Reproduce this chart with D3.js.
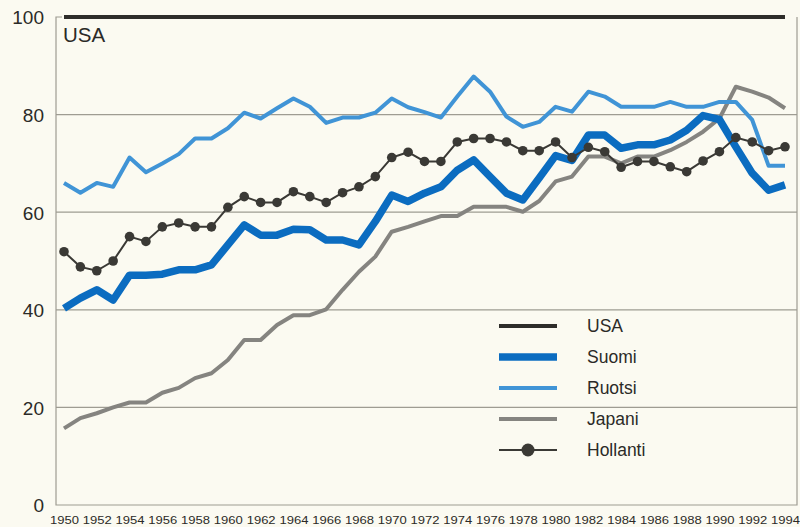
<!DOCTYPE html>
<html><head><meta charset="utf-8">
<script src="https://cdn.jsdelivr.net/npm/d3@7"></script>
<style>
html,body{margin:0;padding:0;background:#fbfaf1;}
svg{display:block;}
</style></head>
<body><svg id="c" width="800" height="527"></svg>
<script>
const years = d3.range(1950, 1995);
const usa = years.map(() => 100);
const suomi = [40.3,42.4,44.1,42.0,47.1,47.1,47.3,48.2,48.2,49.2,53.3,57.4,55.3,55.3,56.5,56.4,54.3,54.3,53.3,58.1,63.5,62.2,63.9,65.2,68.6,70.7,67.3,63.9,62.5,67.0,71.6,70.6,75.8,75.8,73.1,73.8,73.8,74.8,76.8,79.8,79.0,73.4,68.0,64.5,65.6];
const ruotsi = [66.0,64.0,66.0,65.2,71.2,68.2,70.0,71.9,75.1,75.1,77.2,80.4,79.2,81.3,83.3,81.6,78.3,79.4,79.4,80.4,83.3,81.5,80.5,79.4,83.7,87.8,84.7,79.6,77.5,78.5,81.6,80.6,84.7,83.7,81.6,81.6,81.6,82.6,81.6,81.6,82.6,82.6,78.9,69.5,69.5];
const japani = [15.7,17.8,18.8,20.0,21.0,21.0,23.0,24.0,26.0,27.0,29.7,33.8,33.8,36.9,38.9,38.9,40.1,44.1,47.8,50.9,56.0,57.0,58.1,59.2,59.2,61.1,61.1,61.1,60.1,62.3,66.3,67.3,71.4,71.4,70.0,71.4,71.4,72.7,74.4,76.5,79.2,85.7,84.7,83.5,81.3];
const hollanti = [51.9,48.8,48.0,50.0,55.0,54.0,57.0,57.8,57.0,57.0,61.0,63.2,62.0,62.0,64.2,63.2,62.0,64.0,65.2,67.3,71.2,72.3,70.4,70.4,74.4,75.1,75.1,74.4,72.6,72.6,74.4,71.2,73.3,72.4,69.2,70.4,70.4,69.3,68.3,70.5,72.4,75.3,74.4,72.6,73.4];
const yTicks = [0,20,40,60,80,100];
const xTicks = d3.range(1950, 1995, 2);
const legendNames = ["USA","Suomi","Ruotsi","Japani","Hollanti"];

const svg = d3.select("#c");
const x = d3.scaleLinear().domain([1950,1994]).range([64,785]);
const y = d3.scaleLinear().domain([0,100]).range([505,17]);
const left = 56, right = 797;
const FONT = "'Liberation Sans', Arial, sans-serif";

svg.append("rect").attr("width",800).attr("height",527).attr("fill","#fbfaf1");

// gridlines
svg.append("g").selectAll("line").data(yTicks.filter(d=>d>0 && d<100)).join("line")
  .attr("x1",left).attr("x2",right).attr("y1",d=>y(d)).attr("y2",d=>y(d))
  .attr("stroke","#9e9c92").attr("stroke-width",1.2);

// frame
svg.append("path").attr("d",`M${left+6},${y(100)}H${left}V${y(0)}H${right}V${y(100)}`)
  .attr("fill","none").attr("stroke","#9e9c92").attr("stroke-width",1.2);

// y labels
const yAxis = d3.axisLeft(y).tickValues(yTicks).tickSize(0).tickPadding(0);
const ga = svg.append("g").attr("transform",`translate(44,0)`).call(yAxis);
ga.select(".domain").remove();
ga.selectAll("text").attr("font-family",FONT)
  .attr("font-size",19).attr("fill","#2b2a27").attr("dy","0.36em");

// x labels
const xAxis = d3.axisBottom(x).tickValues(xTicks).tickFormat(d3.format("d")).tickSize(0).tickPadding(0);
const gx = svg.append("g").attr("transform",`translate(0,524)`).call(xAxis);
gx.select(".domain").remove();
gx.selectAll("text").attr("font-family",FONT)
  .attr("font-size",11).attr("fill","#2b2a27").attr("dy","0")
  .attr("textLength",29).attr("lengthAdjust","spacingAndGlyphs");

const line = d3.line().x((d,i)=>x(years[i])).y(d=>y(d));

svg.append("path").datum(japani).attr("d",line).attr("fill","none")
  .attr("stroke","#858480").attr("stroke-width",4).attr("stroke-linejoin","round");
svg.append("path").datum(ruotsi).attr("d",line).attr("fill","none")
  .attr("stroke","#4094d6").attr("stroke-width",4).attr("stroke-linejoin","round");
svg.append("path").datum(suomi).attr("d",line).attr("fill","none")
  .attr("stroke","#0b6cc0").attr("stroke-width",7.5).attr("stroke-linejoin","round");
svg.append("path").datum(hollanti).attr("d",line).attr("fill","none")
  .attr("stroke","#3a3935").attr("stroke-width",2);
svg.append("g").selectAll("circle").data(hollanti).join("circle")
  .attr("cx",(d,i)=>x(years[i])).attr("cy",d=>y(d)).attr("r",4.8).attr("fill","#3a3935");
svg.append("path").datum(usa).attr("d",line).attr("fill","none")
  .attr("stroke","#2e2d2a").attr("stroke-width",4);

// USA label
svg.append("text").attr("x",63).attr("y",42).text("USA")
  .attr("font-family",FONT).attr("font-size",20.5).attr("fill","#2b2a27");

// legend
const styles = [
  {c:"#2e2d2a",w:4},{c:"#0b6cc0",w:7.5},{c:"#4094d6",w:4},{c:"#858480",w:4},{c:"#3a3935",w:2,dot:true}
];
const ly = d3.scalePoint().domain(legendNames).range([326,450]);
const lg = svg.append("g");
legendNames.forEach((n,i)=>{
  const yy = ly(n), s = styles[i];
  lg.append("line").attr("x1",499).attr("x2",557).attr("y1",yy).attr("y2",yy)
    .attr("stroke",s.c).attr("stroke-width",s.w);
  if (s.dot) lg.append("circle").attr("cx",528).attr("cy",yy).attr("r",6.5).attr("fill",s.c);
  lg.append("text").attr("x",587).attr("y",yy).attr("dy","0.32em").text(n)
    .attr("font-family",FONT).attr("font-size",17.5).attr("fill","#2b2a27");
});
</script>
</body></html>
